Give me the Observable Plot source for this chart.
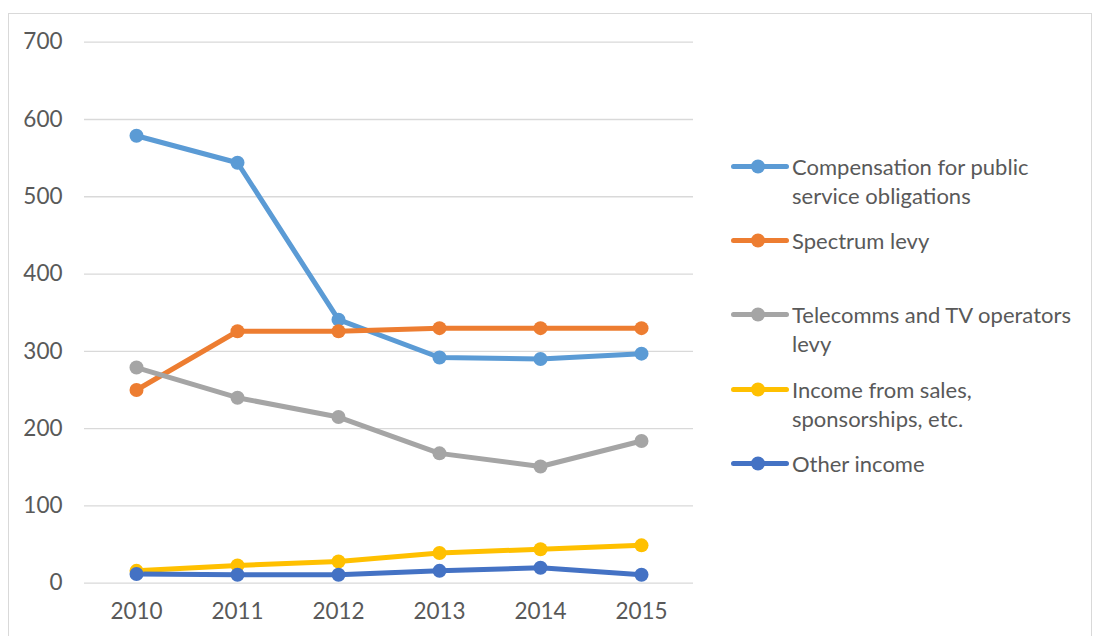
<!DOCTYPE html>
<html>
<head>
<meta charset="utf-8">
<script src="https://cdn.jsdelivr.net/npm/d3@7"></script>
<script src="https://cdn.jsdelivr.net/npm/@observablehq/plot@0.6"></script>
<style>
  html, body { margin: 0; padding: 0; background: #fff; overflow: hidden; }
  #wrap { position: relative; width: 1093px; height: 636px; overflow: hidden; }
  #frame { position: absolute; left: 8px; top: 13px; width: 1084px; height: 700px; border: 1.5px solid #d9d9d9; box-sizing: border-box; pointer-events: none; }
  #chart { position: absolute; left: 0; top: 0; }
  #legend { position: absolute; left: 0; top: 0; font-family: Lato, sans-serif; font-size: 22px; color: #595959; }
  .item { position: absolute; left: 731px; display: flex; align-items: flex-start; white-space: nowrap; }
  .text { margin-left: 3px; line-height: 29px; }
</style>
</head>
<body>
<div id="wrap">
  <div id="chart"></div>
  <div id="legend"></div>
  <div id="frame"></div>
</div>
<script>
const years = ["2010", "2011", "2012", "2013", "2014", "2015"];
const seriesNames = [
  "Compensation for public service obligations",
  "Spectrum levy",
  "Telecomms and TV operators levy",
  "Income from sales, sponsorships, etc.",
  "Other income"
];
const legendLines = [
  ["Compensation for public", "service obligations"],
  ["Spectrum levy"],
  ["Telecomms and TV operators", "levy"],
  ["Income from sales,", "sponsorships, etc."],
  ["Other income"]
];
const colors = ["#5B9BD5", "#ED7D31", "#A5A5A5", "#FFC000", "#4472C4"];
const compensation = [579, 544, 341, 292, 290, 297];
const spectrum = [250, 326, 326, 330, 330, 330];
const telecomms = [279, 240, 215, 168, 151, 184];
const sales = [16, 23, 28, 39, 44, 49];
const other = [12, 11, 11, 16, 20, 11];
const yTicks = [0, 100, 200, 300, 400, 500, 600, 700];
const legendY = [166, 240, 314, 389, 463];

const allSeries = [compensation, spectrum, telecomms, sales, other];
const data = [];
allSeries.forEach((vals, si) => {
  vals.forEach((v, i) => data.push({ series: seriesNames[si], year: years[i], value: v }));
});

const chart = Plot.plot({
  width: 1093,
  height: 636,
  marginLeft: 84,
  marginRight: 400,
  marginTop: 41.7,
  marginBottom: 53.3,
  style: { fontFamily: "Lato, sans-serif", fontSize: "22.5px", color: "#595959", background: "transparent" },
  x: { type: "point", domain: years, padding: 0.5, label: null },
  y: { domain: [0, 700], label: null },
  color: { domain: seriesNames, range: colors },
  marks: [
    Plot.ruleY(yTicks, { stroke: "#d9d9d9", strokeWidth: 1.3 }),
    Plot.axisY({ ticks: yTicks, tickSize: 0, tickPadding: 22, label: null, fill: "#595959" }),
    Plot.axisX({ tickSize: 0, tickPadding: 20, label: null, fill: "#595959" }),
    ...seriesNames.map(name => Plot.line(data.filter(d => d.series === name), {
      x: "year", y: "value", stroke: "series", strokeWidth: 5, strokeLinejoin: "round", strokeLinecap: "round"
    })),
    ...seriesNames.map(name => Plot.dot(data.filter(d => d.series === name), {
      x: "year", y: "value", fill: "series", r: 7
    }))
  ]
});
document.getElementById("chart").appendChild(chart);

const legend = document.getElementById("legend");
seriesNames.forEach((name, i) => {
  const item = document.createElement("div");
  item.className = "item";
  item.style.top = (legendY[i] - 14.5) + "px";
  const sw = document.createElementNS("http://www.w3.org/2000/svg", "svg");
  sw.setAttribute("width", 58); sw.setAttribute("height", 29);
  sw.innerHTML = `<line x1="2.5" x2="55.5" y1="14.5" y2="14.5" stroke="${colors[i]}" stroke-width="5" stroke-linecap="round"/>` +
                 `<circle cx="27" cy="14.5" r="7" fill="${colors[i]}"/>`;
  item.appendChild(sw);
  const t = document.createElement("div");
  t.className = "text";
  t.innerHTML = legendLines[i].join("<br>");
  item.appendChild(t);
  legend.appendChild(item);
});
</script>
</body>
</html>
